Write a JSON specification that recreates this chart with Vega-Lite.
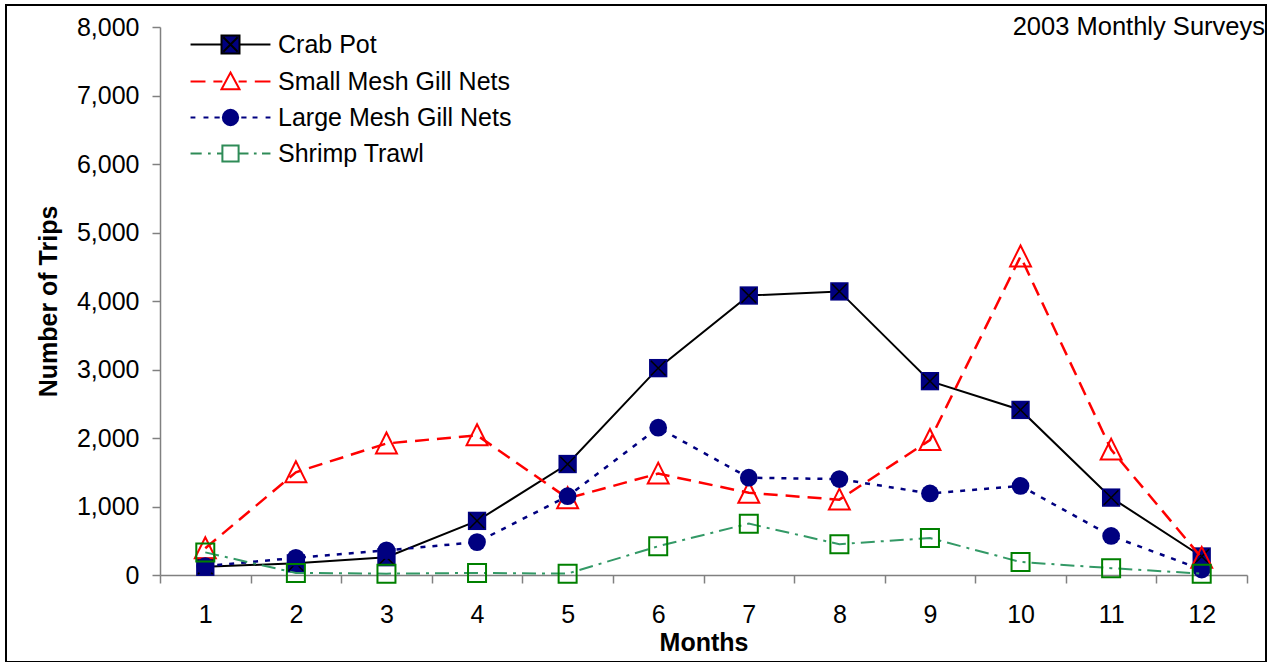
{
  "$schema": "https://vega.github.io/schema/vega-lite/v6.json",
  "width": 1260,
  "height": 657,
  "autosize": "none",
  "padding": {"left": 6, "top": 5, "right": 14, "bottom": 0},
  "config": {
    "view": {"stroke": "black", "strokeWidth": 2},
    "font": "Liberation Sans",
    "axis": {"labelFont": "Liberation Sans", "titleFont": "Liberation Sans", "labelColor": "black", "titleColor": "black"}
  },
  "title": {
    "text": "2003 Monthly Surveys",
    "anchor": "end",
    "frame": "group",
    "fontSize": 25.5,
    "fontWeight": "normal",
    "font": "Liberation Sans",
    "color": "black",
    "offset": -55,
    "baseline": "alphabetic",
    "dx": -1
  },
  "data": {
    "values": [
      {"month": 1, "series": "Crab Pot", "trips": 120},
      {"month": 2, "series": "Crab Pot", "trips": 170},
      {"month": 3, "series": "Crab Pot", "trips": 260},
      {"month": 4, "series": "Crab Pot", "trips": 790},
      {"month": 5, "series": "Crab Pot", "trips": 1620},
      {"month": 6, "series": "Crab Pot", "trips": 3020},
      {"month": 7, "series": "Crab Pot", "trips": 4080},
      {"month": 8, "series": "Crab Pot", "trips": 4140},
      {"month": 9, "series": "Crab Pot", "trips": 2830},
      {"month": 10, "series": "Crab Pot", "trips": 2410},
      {"month": 11, "series": "Crab Pot", "trips": 1130},
      {"month": 12, "series": "Crab Pot", "trips": 270},
      {"month": 1, "series": "Small Mesh Gill Nets", "trips": 390},
      {"month": 2, "series": "Small Mesh Gill Nets", "trips": 1500},
      {"month": 3, "series": "Small Mesh Gill Nets", "trips": 1920},
      {"month": 4, "series": "Small Mesh Gill Nets", "trips": 2040},
      {"month": 5, "series": "Small Mesh Gill Nets", "trips": 1120},
      {"month": 6, "series": "Small Mesh Gill Nets", "trips": 1480},
      {"month": 7, "series": "Small Mesh Gill Nets", "trips": 1200},
      {"month": 8, "series": "Small Mesh Gill Nets", "trips": 1100},
      {"month": 9, "series": "Small Mesh Gill Nets", "trips": 1970},
      {"month": 10, "series": "Small Mesh Gill Nets", "trips": 4650},
      {"month": 11, "series": "Small Mesh Gill Nets", "trips": 1830},
      {"month": 12, "series": "Small Mesh Gill Nets", "trips": 250},
      {"month": 1, "series": "Large Mesh Gill Nets", "trips": 130},
      {"month": 2, "series": "Large Mesh Gill Nets", "trips": 250},
      {"month": 3, "series": "Large Mesh Gill Nets", "trips": 360},
      {"month": 4, "series": "Large Mesh Gill Nets", "trips": 480},
      {"month": 5, "series": "Large Mesh Gill Nets", "trips": 1150},
      {"month": 6, "series": "Large Mesh Gill Nets", "trips": 2150},
      {"month": 7, "series": "Large Mesh Gill Nets", "trips": 1420},
      {"month": 8, "series": "Large Mesh Gill Nets", "trips": 1400},
      {"month": 9, "series": "Large Mesh Gill Nets", "trips": 1190},
      {"month": 10, "series": "Large Mesh Gill Nets", "trips": 1300},
      {"month": 11, "series": "Large Mesh Gill Nets", "trips": 570},
      {"month": 12, "series": "Large Mesh Gill Nets", "trips": 80},
      {"month": 1, "series": "Shrimp Trawl", "trips": 330},
      {"month": 2, "series": "Shrimp Trawl", "trips": 30},
      {"month": 3, "series": "Shrimp Trawl", "trips": 20},
      {"month": 4, "series": "Shrimp Trawl", "trips": 30},
      {"month": 5, "series": "Shrimp Trawl", "trips": 20},
      {"month": 6, "series": "Shrimp Trawl", "trips": 420},
      {"month": 7, "series": "Shrimp Trawl", "trips": 750},
      {"month": 8, "series": "Shrimp Trawl", "trips": 450},
      {"month": 9, "series": "Shrimp Trawl", "trips": 540},
      {"month": 10, "series": "Shrimp Trawl", "trips": 190},
      {"month": 11, "series": "Shrimp Trawl", "trips": 100},
      {"month": 12, "series": "Shrimp Trawl", "trips": 20}
    ]
  },
  "encoding": {
    "x": {
      "field": "month",
      "type": "ordinal",
      "bandPosition": 0.5,
      "scale": {"type": "band", "paddingInner": 0, "paddingOuter": 0, "range": [154, 1241]},
      "axis": {
        "title": "Months",
        "titleFontSize": 25,
        "titleFontWeight": "bold",
        "labelFontSize": 25,
        "labelAngle": 0,
        "labelPadding": 19,
        "tickBand": "extent",
        "tickSize": 8,
        "tickColor": "#808080",
        "tickWidth": 1.5,
        "domainColor": "#808080",
        "domainWidth": 1.5,
        "offset": -87,
        "titlePadding": 3,
        "grid": false
      }
    },
    "y": {
      "field": "trips",
      "type": "quantitative",
      "scale": {"domain": [0, 8000], "nice": false, "range": [570, 22]},
      "axis": {
        "title": "Number of Trips",
        "titleFontSize": 25,
        "titleFontWeight": "bold",
        "labelFontSize": 25,
        "values": [0, 1000, 2000, 3000, 4000, 5000, 6000, 7000, 8000],
        "format": ",d",
        "tickSize": 8,
        "tickColor": "#808080",
        "tickWidth": 1.5,
        "domainColor": "#808080",
        "domainWidth": 1.5,
        "labelPadding": 13,
        "titlePadding": 15,
        "offset": -154,
        "grid": false
      }
    }
  },
  "layer": [
    {
      "transform": [{"filter": "datum.series === 'Crab Pot'"}],
      "mark": {"type": "line", "color": "black", "strokeWidth": 2}
    },
    {
      "transform": [{"filter": "datum.series === 'Crab Pot'"}],
      "mark": {"type": "point", "shape": "square", "filled": true, "fill": "#000080", "strokeWidth": 0, "size": 336, "opacity": 1}
    },
    {
      "transform": [{"filter": "datum.series === 'Crab Pot'"}],
      "mark": {"type": "point", "shape": "M-0.8,-0.8L0.8,0.8M-0.8,0.8L0.8,-0.8", "filled": false, "stroke": "black", "strokeWidth": 1.5, "size": 336, "opacity": 1}
    },
    {
      "transform": [{"filter": "datum.series === 'Small Mesh Gill Nets'"}],
      "mark": {"type": "line", "color": "#FF0000", "strokeWidth": 2.5, "strokeDash": [14, 8]}
    },
    {
      "transform": [{"filter": "datum.series === 'Small Mesh Gill Nets'"}],
      "mark": {"type": "point", "shape": "M0,-1L0.95,0.9L-0.95,0.9Z", "filled": false, "stroke": "#FF0000", "strokeWidth": 2, "size": 484, "opacity": 1}
    },
    {
      "transform": [{"filter": "datum.series === 'Large Mesh Gill Nets'"}],
      "mark": {"type": "line", "color": "#000080", "strokeWidth": 2.5, "strokeDash": [5, 7]}
    },
    {
      "transform": [{"filter": "datum.series === 'Large Mesh Gill Nets'"}],
      "mark": {"type": "point", "shape": "circle", "filled": true, "fill": "#000080", "strokeWidth": 0, "size": 314, "opacity": 1}
    },
    {
      "transform": [{"filter": "datum.series === 'Shrimp Trawl'"}],
      "mark": {"type": "line", "color": "#339966", "strokeWidth": 2, "strokeDash": [14, 6, 3, 6]}
    },
    {
      "transform": [{"filter": "datum.series === 'Shrimp Trawl'"}],
      "mark": {"type": "point", "shape": "square", "filled": false, "stroke": "#008000", "strokeWidth": 2, "size": 324, "opacity": 1}
    },
    {
      "transform": [{"filter": "datum.month > 100"}],
      "mark": {"type": "point", "filled": true, "size": 324, "strokeWidth": 2, "opacity": 1},
      "encoding": {
        "shape": {
          "field": "series",
          "type": "nominal",
          "scale": {
            "domain": ["Crab Pot", "Small Mesh Gill Nets", "Large Mesh Gill Nets", "Shrimp Trawl"],
            "range": [
              "M-4.44,0L-1,0M1,0L4.44,0M-1,-1L1,-1L1,1L-1,1ZM-0.8,-0.8L0.8,0.8M-0.8,0.8L0.8,-0.8",
              "M-4.44,0L-2.78,0M-1.9,0L-0.9,0M0.9,0L1.8,0M2.7,0L4.44,0M0,-1L1,0.85L-1,0.85Z",
              "M-4.44,0L-3.9,0M-3.0,0L-2.45,0M-1.78,0L-1.2,0M1.2,0L1.78,0M2.45,0L3.0,0M3.9,0L4.44,0M-0.85,0A0.85,0.85 0 1,1 0.85,0A0.85,0.85 0 1,1 -0.85,0Z",
              "M-4.44,0L-3.2,0M-2.5,0L-2.2,0M-1.5,0L-0.9,0M-0.9,-0.9L0.9,-0.9L0.9,0.9L-0.9,0.9ZM0.9,0L2,0M2.6,0L2.9,0M3.5,0L4.44,0"
            ]
          },
          "legend": {"title": null, "orient": "none", "legendX": 212, "legendY": 27, "labelFontSize": 25, "labelFont": "Liberation Sans", "labelColor": "black", "labelOffset": 35, "rowPadding": 10, "symbolSize": 324, "symbolStrokeWidth": 2, "padding": 0, "labelLimit": 500}
        },
        "fill": {
          "field": "series",
          "type": "nominal",
          "scale": {
            "domain": ["Crab Pot", "Small Mesh Gill Nets", "Large Mesh Gill Nets", "Shrimp Trawl"],
            "range": ["#000080", "transparent", "#000080", "transparent"]
          },
          "legend": {"title": null, "orient": "none", "legendX": 212, "legendY": 27, "labelFontSize": 25, "labelFont": "Liberation Sans", "labelColor": "black", "labelOffset": 35, "rowPadding": 10, "symbolSize": 324, "symbolStrokeWidth": 2, "padding": 0, "labelLimit": 500}
        },
        "stroke": {
          "field": "series",
          "type": "nominal",
          "scale": {
            "domain": ["Crab Pot", "Small Mesh Gill Nets", "Large Mesh Gill Nets", "Shrimp Trawl"],
            "range": ["black", "#FF0000", "#000080", "#2E8B57"]
          },
          "legend": {"title": null, "orient": "none", "legendX": 212, "legendY": 27, "labelFontSize": 25, "labelFont": "Liberation Sans", "labelColor": "black", "labelOffset": 35, "rowPadding": 10, "symbolSize": 324, "symbolStrokeWidth": 2, "padding": 0, "labelLimit": 500}
        }
      }
    }
  ]
}
